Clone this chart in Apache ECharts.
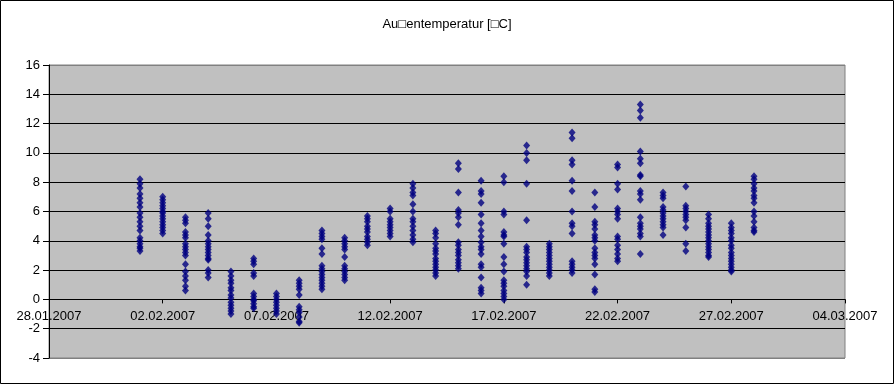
<!DOCTYPE html>
<html>
<head>
<meta charset="utf-8">
<script src="https://cdn.jsdelivr.net/npm/echarts@6/dist/echarts.min.js"></script>
<style>
html,body{margin:0;padding:0;background:#fff;}
#c{width:894px;height:384px;}
</style>
</head>
<body>
<div id="c"></div>
<script>
const titleText = 'Au\u25A1entemperatur [\u25A1C]';
const baseDate = '2007-01-28';
const xMaxDays = 35;
const xStepDays = 5;
const yTicks = [-4, 16, 2];

const days = [
  '2007-02-01','2007-02-02','2007-02-03','2007-02-04','2007-02-05','2007-02-06','2007-02-07',
  '2007-02-08','2007-02-09','2007-02-10','2007-02-11','2007-02-12','2007-02-13','2007-02-14',
  '2007-02-15','2007-02-16','2007-02-17','2007-02-18','2007-02-19','2007-02-20','2007-02-21',
  '2007-02-22','2007-02-23','2007-02-24','2007-02-25','2007-02-26','2007-02-27','2007-02-28'
];

const temps = [
  [8.2,7.9,7.6,7.2,6.9,6.6,6.3,5.9,5.6,5.3,5.0,4.7,4.2,4.0,3.8,3.6,3.5,3.3],
  [7.0,6.8,6.6,6.4,6.2,6.0,5.9,5.7,5.5,5.3,5.1,4.9,4.7,4.5],
  [5.6,5.4,5.2,4.6,4.4,4.2,3.8,3.6,3.4,3.2,3.0,2.4,1.9,1.6,1.3,0.9,0.6],
  [5.9,5.5,5.0,4.4,4.0,3.8,3.6,3.4,3.2,3.0,2.8,2.7,2.0,1.8,1.5],
  [1.9,1.6,1.3,1.1,0.8,0.6,0.3,0.1,-0.2,-0.4,-0.6,-0.8,-1.0],
  [2.8,2.6,2.4,1.8,1.6,0.4,0.2,0.0,-0.1,-0.3,-0.5,-0.6],
  [0.4,0.2,0.0,-0.2,-0.4,-0.6,-0.8,-1.0],
  [1.3,1.1,0.9,0.7,0.3,-0.5,-0.7,-0.9,-1.2,-1.5,-1.6],
  [4.7,4.5,4.3,4.1,3.5,3.1,2.3,2.1,1.9,1.7,1.5,1.3,1.1,0.9,0.7],
  [4.2,4.0,3.8,3.6,3.4,2.9,2.3,2.1,1.9,1.7,1.5,1.3],
  [5.7,5.5,5.3,5.0,4.8,4.6,4.3,4.1,3.9,3.7],
  [6.2,6.0,5.5,5.3,5.1,4.9,4.7,4.5,4.3],
  [7.9,7.6,7.3,7.1,6.5,6.0,5.5,5.3,5.0,4.7,4.4,4.1,3.9],
  [4.7,4.5,4.2,3.8,3.5,3.3,3.1,2.8,2.6,2.4,2.2,2.0,1.8,1.6],
  [9.3,8.9,7.3,6.1,5.9,5.6,5.1,3.9,3.7,3.4,3.2,3.0,2.7,2.5,2.3,2.1],
  [8.1,7.4,7.2,6.6,5.8,5.2,4.7,4.3,3.9,3.6,3.4,3.1,2.4,2.2,1.5,0.8,0.6,0.4],
  [8.4,8.0,6.0,5.8,4.6,4.4,4.3,3.8,2.9,2.4,1.9,1.3,1.1,0.9,0.6,0.4,0.2,0.0],
  [10.5,10.0,9.5,7.9,5.4,3.6,3.4,3.2,2.9,2.7,2.5,2.3,2.1,1.9,1.6,1.0],
  [3.8,3.6,3.4,3.2,3.0,2.8,2.6,2.4,2.2,2.0,1.8,1.6],
  [11.4,11.0,9.5,9.2,8.1,7.4,6.0,5.2,5.0,4.5,2.6,2.4,2.2,2.0,1.8],
  [7.3,6.3,5.3,5.1,4.8,4.4,4.2,4.0,3.5,3.2,3.0,2.8,2.4,1.7,0.7,0.5],
  [9.2,9.0,7.9,7.5,6.2,6.0,5.8,5.5,4.3,4.1,3.7,3.4,3.1,2.8,2.6],
  [13.3,12.9,12.4,10.1,9.6,9.3,8.5,8.4,7.4,7.2,6.8,5.6,5.2,5.0,4.8,4.5,4.3,3.1],
  [7.3,7.1,6.9,6.3,6.1,5.9,5.7,5.5,5.3,5.1,4.9,4.4],
  [7.7,6.4,6.2,6.0,5.8,5.6,5.4,4.9,3.8,3.3],
  [5.8,5.5,5.2,5.0,4.8,4.6,4.4,4.2,4.0,3.8,3.6,3.4,3.2,3.0,2.9],
  [5.2,4.9,4.7,4.5,4.2,4.0,3.7,3.5,3.2,3.0,2.8,2.6,2.4,2.2,2.0,1.9],
  [8.4,8.2,7.9,7.6,7.4,7.1,6.9,6.6,6.0,5.7,5.3,4.9,4.7,4.6]
];

const DAY = 86400000;
function parseUTC(s){ const p = s.split('-').map(Number); return Date.UTC(p[0], p[1]-1, p[2]); }
const base = parseUTC(baseDate);
const pad = n => (n < 10 ? '0' : '') + n;
function fmt(v){
  const d = new Date(base + Math.round(v) * DAY);
  return pad(d.getUTCDate()) + '.' + pad(d.getUTCMonth()+1) + '.' + d.getUTCFullYear();
}

const data = [];
days.forEach((d, i) => {
  const x = (parseUTC(d) - base) / DAY;
  temps[i].forEach(v => data.push([x, v]));
});

const nY = Math.round((yTicks[1] - yTicks[0]) / yTicks[2]) + 1;
const splitColors = [];
for (let i = 0; i < nY; i++) splitColors.push(i === 0 || i === nY - 1 ? '#808080' : '#000000');

const W = 894, H = 384;
const G = {left: 49, right: 49, top: 65, bottom: 26};
const gridH = H - G.top - G.bottom;
// place the category axis where the value axis crosses 0
const zeroOffset = -gridH * (0 - yTicks[0]) / (yTicks[1] - yTicks[0]);

const FONT = "'Liberation Sans', Arial, sans-serif";
const chart = echarts.init(document.getElementById('c'), null, {renderer: 'canvas'});
chart.setOption({
  animation: false,
  backgroundColor: '#ffffff',
  textStyle: {fontFamily: FONT},
  title: {
    text: titleText,
    left: 'center',
    top: 13,
    textStyle: {fontFamily: FONT, fontSize: 13, fontWeight: 'normal', color: '#000'}
  },
  graphic: [{
    type: 'rect',
    shape: {x: 0.5, y: 0.5, width: W - 1, height: H - 1},
    style: {fill: null, stroke: '#000', lineWidth: 1},
    silent: true
  }],
  grid: {
    left: G.left, right: G.right, top: G.top, bottom: G.bottom,
    show: true, backgroundColor: '#c0c0c0', borderColor: '#808080', borderWidth: 1
  },
  xAxis: {
    type: 'value',
    position: 'bottom',
    offset: zeroOffset,
    min: 0, max: xMaxDays, interval: xStepDays,
    axisLine: {show: true, onZero: false, lineStyle: {color: '#000', width: 1}},
    axisTick: {show: true, length: 4, lineStyle: {color: '#000'}},
    splitLine: {show: false},
    axisLabel: {
      show: true, margin: 11, fontSize: 13, color: '#000', fontFamily: FONT,
      showMinLabel: true, showMaxLabel: true, hideOverlap: false,
      formatter: fmt
    }
  },
  yAxis: {
    type: 'value',
    min: yTicks[0], max: yTicks[1], interval: yTicks[2],
    axisLine: {show: true, onZero: false, lineStyle: {color: '#000', width: 1}},
    axisTick: {show: true, length: 6, lineStyle: {color: '#000'}},
    splitLine: {show: true, lineStyle: {color: splitColors, width: 1}},
    axisLabel: {margin: 9, fontSize: 13, color: '#000', fontFamily: FONT}
  },
  series: [{
    type: 'scatter',
    symbol: 'diamond',
    symbolSize: [7, 8],
    itemStyle: {color: '#000080', borderWidth: 0},
    data: data
  }]
});
</script>
</body>
</html>
